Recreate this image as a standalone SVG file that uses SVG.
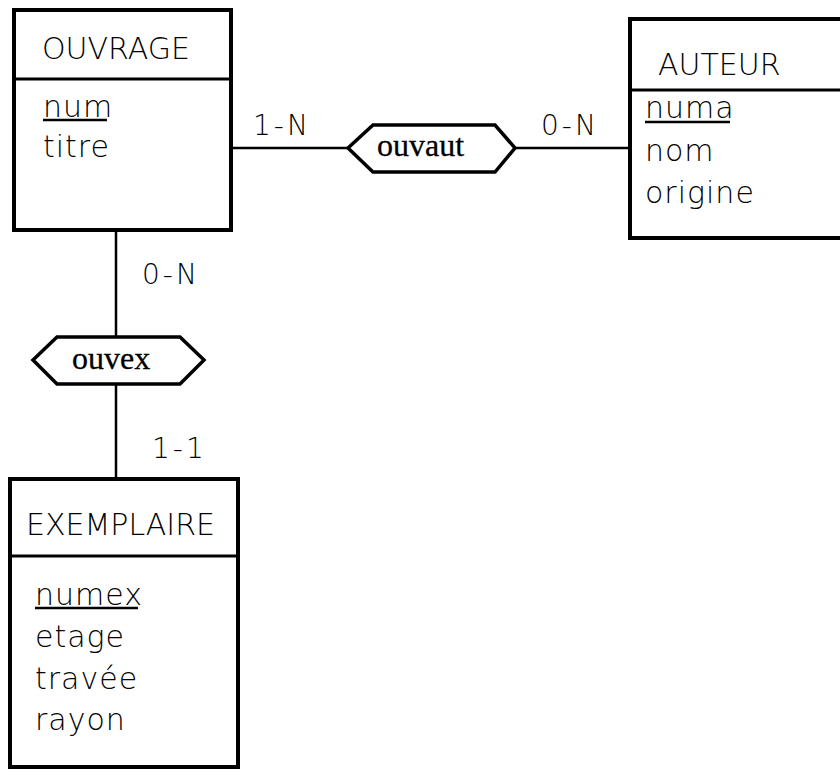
<svg xmlns="http://www.w3.org/2000/svg" width="840" height="769" viewBox="0 0 840 769">
<style>
.box{fill:#fff;stroke:#000;stroke-width:4}
.div{stroke:#000;stroke-width:3}
.ul{stroke:#000;stroke-width:2.5}
.con{stroke:#000;stroke-width:2.5;fill:none}
.hex{fill:#fff;stroke:#000;stroke-width:3.5;stroke-linejoin:miter}
.t{font-family:"DejaVu Sans",sans-serif;font-weight:200;font-size:30px;fill:#000}
.a{font-family:"DejaVu Sans",sans-serif;font-weight:200;font-size:30px;fill:#000;letter-spacing:1px}
.c{font-family:"DejaVu Sans",sans-serif;font-weight:200;font-size:28px;fill:#000;letter-spacing:3px}
.r{font-family:"Liberation Serif","Times New Roman",serif;font-size:32px;fill:#000;stroke:#000;stroke-width:0.3}
</style>
<rect width="840" height="769" fill="#fff"/>
<g id="connectors">
<line class="con" x1="233" y1="148" x2="348" y2="148"/>
<line class="con" x1="515" y1="148" x2="630" y2="148"/>
<line class="con" x1="116" y1="232" x2="116" y2="337"/>
<line class="con" x1="116" y1="384" x2="116" y2="478"/>
<text class="c" x="253" y="135">1-N</text>
<text class="c" x="541" y="135">0-N</text>
<text class="c" x="142" y="284">0-N</text>
<text class="c" x="152" y="458">1-1</text>
</g>
<g id="ouvrage">
<rect class="box" x="14" y="10" width="217" height="220"/>
<line class="div" x1="14" y1="79" x2="231" y2="79"/>
<text class="t" x="42" y="59">OUVRAGE</text>
<text class="a" x="43" y="117">num</text>
<line class="ul" x1="43" y1="120" x2="107" y2="120"/>
<text class="a" x="43" y="157">titre</text>
</g>
<g id="auteur">
<rect class="box" x="630" y="19" width="220" height="219"/>
<line class="div" x1="630" y1="90" x2="850" y2="90"/>
<text class="t" x="658" y="75">AUTEUR</text>
<text class="a" x="645" y="118">numa</text>
<line class="ul" x1="645" y1="122" x2="730" y2="122"/>
<text class="a" x="645" y="161">nom</text>
<text class="a" x="645" y="203">origine</text>
</g>
<g id="exemplaire">
<rect class="box" x="10" y="479" width="228" height="288"/>
<line class="div" x1="10" y1="556" x2="238" y2="556"/>
<text class="t" x="26" y="535">EXEMPLAIRE</text>
<text class="a" x="35" y="605">numex</text>
<line class="ul" x1="35" y1="608" x2="138" y2="608"/>
<text class="a" x="35" y="647">etage</text>
<text class="a" x="35" y="689">travée</text>
<text class="a" x="35" y="730">rayon</text>
</g>
<g id="ouvaut">
<polygon class="hex" points="348,148 373,125 495,125 515,148 495,172 373,172"/>
<text class="r" x="377" y="156">ouvaut</text>
</g>
<g id="ouvex">
<polygon class="hex" points="33,360 57,337 180,337 204,360 180,384 57,384"/>
<text class="r" x="72" y="369">ouvex</text>
</g>
</svg>
